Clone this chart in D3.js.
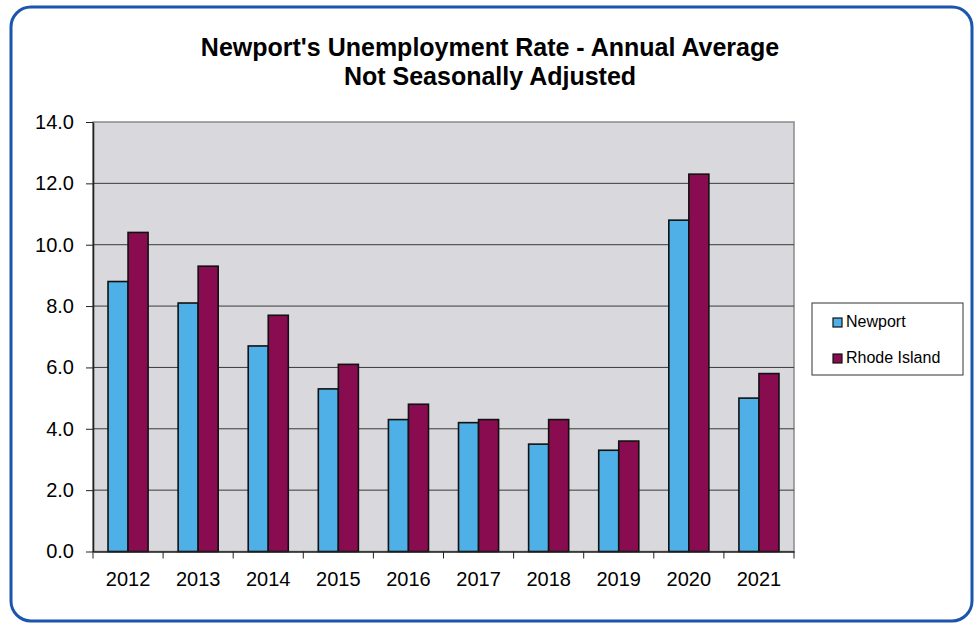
<!DOCTYPE html>
<html>
<head>
<meta charset="utf-8">
<script src="https://cdn.jsdelivr.net/npm/d3@7"></script>
<style>
  html, body { margin: 0; padding: 0; background: #ffffff; }
  svg { display: block; }
  text { font-family: "Liberation Sans", Arial, sans-serif; fill: #000; }
</style>
</head>
<body>
<svg id="chart" width="980" height="625"></svg>
<script>
// Annual average unemployment rate (%), not seasonally adjusted
const years = ["2012", "2013", "2014", "2015", "2016", "2017", "2018", "2019", "2020", "2021"];
const newport = [8.8, 8.1, 6.7, 5.3, 4.3, 4.2, 3.5, 3.3, 10.8, 5.0];
const rhodeIsland = [10.4, 9.3, 7.7, 6.1, 4.8, 4.3, 4.3, 3.6, 12.3, 5.8];
const seriesNames = ["Newport", "Rhode Island"];
const seriesColors = ["#4eb0e6", "#8a0c50"];
const yTicks = [0, 2, 4, 6, 8, 10, 12, 14];
const titleLines = ["Newport's Unemployment Rate - Annual Average", "Not Seasonally Adjusted"];

const svg = d3.select("#chart");

// outer rounded frame
svg.append("rect")
  .attr("x", 11).attr("y", 7).attr("width", 961).attr("height", 614)
  .attr("rx", 20).attr("ry", 20)
  .attr("fill", "#ffffff").attr("stroke", "#1b55ad").attr("stroke-width", 3);

// title
svg.append("g").selectAll("text").data(titleLines).join("text")
  .attr("x", 490).attr("y", (d, i) => 56 + i * 28.5)
  .attr("text-anchor", "middle")
  .attr("font-size", 25).attr("font-weight", "bold")
  .text(d => d);

const plot = { left: 93, right: 794, top: 122, bottom: 551.5 };

const x = d3.scaleBand().domain(years).range([plot.left, plot.right]).paddingInner(0).paddingOuter(0);
const y = d3.scaleLinear().domain([0, 14]).range([plot.bottom, plot.top]);
const inner = d3.scaleBand().domain(seriesNames).range([0, x.bandwidth()]).paddingInner(0).paddingOuter(0.75);

// plot background
svg.append("rect")
  .attr("x", plot.left).attr("y", plot.top)
  .attr("width", plot.right - plot.left).attr("height", plot.bottom - plot.top)
  .attr("fill", "#d9d9dd").attr("stroke", "#8a8a8a").attr("stroke-width", 1.5);

// horizontal gridlines
svg.append("g").selectAll("line").data(yTicks.filter(t => t > 0 && t < 14)).join("line")
  .attr("x1", plot.left).attr("x2", plot.right)
  .attr("y1", d => y(d)).attr("y2", d => y(d))
  .attr("stroke", "#3a3a3a").attr("stroke-width", 1);

// bars
const rows = years.map((yr, i) => ({ year: yr, values: [newport[i], rhodeIsland[i]] }));
const groups = svg.append("g").selectAll("g").data(rows).join("g")
  .attr("transform", d => `translate(${x(d.year)},0)`);
groups.selectAll("rect")
  .data(d => d.values.map((v, k) => ({ name: seriesNames[k], value: v, color: seriesColors[k] })))
  .join("rect")
  .attr("x", d => inner(d.name))
  .attr("width", inner.bandwidth())
  .attr("y", d => y(d.value))
  .attr("height", d => y(0) - y(d.value))
  .attr("fill", d => d.color)
  .attr("stroke", "#111").attr("stroke-width", 1.6);

// y axis
const yAxis = d3.axisLeft(y).tickValues(yTicks).tickFormat(d3.format(".1f")).tickSize(7).tickSizeOuter(0);
const gy = svg.append("g").attr("transform", `translate(${plot.left},0)`).call(yAxis);
gy.select(".domain").attr("stroke", "#222").attr("stroke-width", 1.6);
gy.selectAll(".tick line").attr("stroke", "#222");
gy.selectAll(".tick text").attr("font-size", 20).attr("x", -19)
  .attr("font-family", "Liberation Sans, Arial, sans-serif").attr("fill", "#000");

// x axis
const xAxis = d3.axisBottom(x).tickSize(0).tickSizeOuter(0);
const gx = svg.append("g").attr("transform", `translate(0,${plot.bottom})`).call(xAxis);
gx.select(".domain").attr("stroke", "#222").attr("stroke-width", 1.6);
gx.selectAll(".tick text").attr("font-size", 20).attr("y", 34).attr("dy", 0)
  .attr("font-family", "Liberation Sans, Arial, sans-serif").attr("fill", "#000");
// category separators below the baseline
svg.append("g").selectAll("line").data(years.concat(["end"])).join("line")
  .attr("x1", (d, i) => plot.left + i * x.step()).attr("x2", (d, i) => plot.left + i * x.step())
  .attr("y1", plot.bottom).attr("y2", plot.bottom + 7)
  .attr("stroke", "#222").attr("stroke-width", 1);

// legend
const legend = svg.append("g").attr("transform", "translate(812,303)");
legend.append("rect").attr("width", 151).attr("height", 72)
  .attr("fill", "#ffffff").attr("stroke", "#333").attr("stroke-width", 1);
const items = legend.selectAll("g").data(seriesNames).join("g")
  .attr("transform", (d, i) => `translate(21,${24 + i * 36})`);
items.append("rect").attr("x", 0).attr("y", -9).attr("width", 9).attr("height", 9)
  .attr("fill", (d, i) => seriesColors[i]).attr("stroke", "#111").attr("stroke-width", 1.2);
items.append("text").attr("x", 13).attr("y", 0).attr("font-size", 16).text(d => d);
</script>
</body>
</html>
